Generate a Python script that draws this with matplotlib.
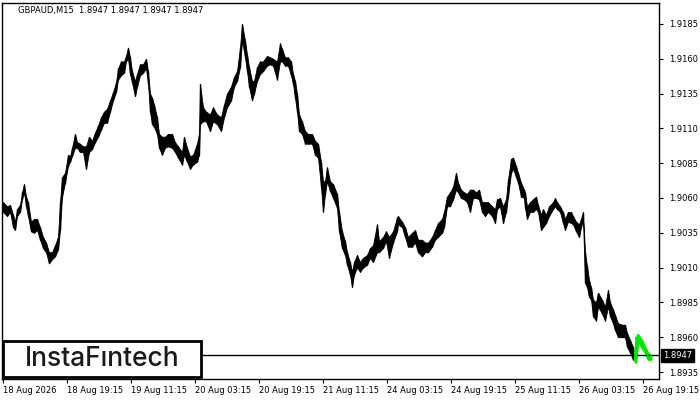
import matplotlib
matplotlib.use("Agg")
import matplotlib.pyplot as plt
from matplotlib.patches import Rectangle
from matplotlib.transforms import blended_transform_factory

symbol = "GBPAUD,M15"
last_price = 1.8947

# M15 bar index (0 = 18 Aug 2026 00:00) with bar high / low
bars = [0, 4, 7, 10, 12, 14, 17, 19, 21, 23, 25, 28, 31, 34, 37, 40, 43, 46, 49, 52,
        55, 57, 59, 62, 65, 67, 69, 72, 74, 77, 80, 83, 86, 89, 92, 95, 98, 101, 104, 107,
        110, 113, 115, 118, 121, 123, 125, 127, 129, 132, 134, 137, 140, 143, 145, 147, 149, 151, 154, 156,
        159, 162, 165, 169, 172, 175, 179, 181, 184, 187, 190, 194, 196, 197, 200, 203, 207, 210, 214, 218,
        221, 224, 228, 231, 234, 237, 239, 242, 244, 246, 249, 251, 254, 257, 260, 264, 267, 270, 274, 277,
        279, 282, 285, 288, 290, 292, 294, 296, 299, 302, 305, 309, 312, 315, 318, 320, 322, 324, 327, 330,
        334, 336, 339, 342, 344, 347, 349, 351, 354, 357, 360, 364, 367, 370, 374, 376, 380, 383, 386, 390,
        394, 395, 399, 402, 405, 409, 412, 415, 419, 422, 425, 429, 432, 435, 439, 441, 444, 447, 450, 453,
        455, 458, 461, 464, 467, 470, 473, 476, 479, 482, 485, 489, 492, 494, 497, 500, 503, 505, 508, 510,
        513, 515, 518, 521, 522, 524, 527, 530, 533, 535, 538, 540, 543, 546, 550, 552, 554, 557, 560, 562,
        565, 568, 570, 573, 576, 578, 580, 582, 584, 586, 588, 590, 593, 595, 599, 602, 605, 607, 610, 612,
        615, 619, 622, 624, 627, 630]
highs = [1.9057, 1.9054, 1.9055, 1.9048, 1.9043, 1.9052, 1.9055, 1.9064, 1.9070, 1.9061, 1.9057, 1.9043, 1.9045, 1.9045, 1.9039, 1.9032, 1.9028, 1.9021, 1.9021, 1.9026,
         1.9032, 1.9057, 1.9075, 1.9078, 1.9091, 1.9090, 1.9096, 1.9106, 1.9100, 1.9099, 1.9097, 1.9097, 1.9104, 1.9101, 1.9107, 1.9112, 1.9118, 1.9122, 1.9124, 1.9130,
         1.9136, 1.9143, 1.9153, 1.9158, 1.9158, 1.9162, 1.9168, 1.9161, 1.9151, 1.9144, 1.9149, 1.9156, 1.9156, 1.9160, 1.9151, 1.9135, 1.9132, 1.9127, 1.9118, 1.9106,
         1.9104, 1.9104, 1.9106, 1.9106, 1.9100, 1.9097, 1.9093, 1.9104, 1.9096, 1.9090, 1.9091, 1.9099, 1.9106, 1.9142, 1.9125, 1.9122, 1.9120, 1.9125, 1.9120, 1.9118,
         1.9127, 1.9135, 1.9140, 1.9147, 1.9151, 1.9168, 1.9185, 1.9173, 1.9163, 1.9154, 1.9144, 1.9144, 1.9154, 1.9158, 1.9158, 1.9162, 1.9161, 1.9160, 1.9158, 1.9171,
         1.9167, 1.9161, 1.9161, 1.9158, 1.9149, 1.9144, 1.9135, 1.9120, 1.9115, 1.9108, 1.9106, 1.9106, 1.9101, 1.9099, 1.9086, 1.9072, 1.9072, 1.9082, 1.9072, 1.9070,
         1.9063, 1.9050, 1.9036, 1.9029, 1.9021, 1.9014, 1.9007, 1.9014, 1.9019, 1.9014, 1.9017, 1.9019, 1.9024, 1.9026, 1.9041, 1.9029, 1.9032, 1.9036, 1.9032, 1.9036,
         1.9046, 1.9047, 1.9043, 1.9039, 1.9032, 1.9035, 1.9037, 1.9030, 1.9030, 1.9028, 1.9028, 1.9032, 1.9037, 1.9042, 1.9045, 1.9050, 1.9061, 1.9064, 1.9068, 1.9078,
         1.9071, 1.9066, 1.9064, 1.9063, 1.9066, 1.9066, 1.9064, 1.9066, 1.9057, 1.9057, 1.9057, 1.9054, 1.9052, 1.9059, 1.9060, 1.9054, 1.9059, 1.9073, 1.9088, 1.9089,
         1.9083, 1.9078, 1.9071, 1.9066, 1.9064, 1.9054, 1.9057, 1.9059, 1.9061, 1.9055, 1.9048, 1.9052, 1.9048, 1.9054, 1.9057, 1.9060, 1.9057, 1.9054, 1.9050, 1.9045,
         1.9050, 1.9050, 1.9047, 1.9043, 1.9041, 1.9045, 1.9050, 1.9021, 1.9011, 1.9001, 1.8996, 1.8987, 1.8985, 1.8992, 1.8987, 1.8982, 1.8994, 1.8985, 1.8980, 1.8976,
         1.8970, 1.8969, 1.8969, 1.8963, 1.8958, 1.8953]
lows = [1.9050, 1.9047, 1.9050, 1.9039, 1.9037, 1.9047, 1.9050, 1.9059, 1.9064, 1.9054, 1.9047, 1.9036, 1.9035, 1.9037, 1.9030, 1.9024, 1.9021, 1.9013, 1.9016, 1.9018,
        1.9023, 1.9037, 1.9061, 1.9071, 1.9083, 1.9086, 1.9090, 1.9096, 1.9096, 1.9093, 1.9093, 1.9081, 1.9093, 1.9095, 1.9100, 1.9104, 1.9109, 1.9114, 1.9114, 1.9122,
        1.9130, 1.9136, 1.9145, 1.9148, 1.9150, 1.9158, 1.9160, 1.9149, 1.9143, 1.9133, 1.9140, 1.9148, 1.9150, 1.9153, 1.9142, 1.9122, 1.9113, 1.9111, 1.9106, 1.9096,
        1.9091, 1.9096, 1.9097, 1.9096, 1.9093, 1.9089, 1.9084, 1.9091, 1.9086, 1.9081, 1.9084, 1.9086, 1.9091, 1.9113, 1.9115, 1.9115, 1.9108, 1.9115, 1.9113, 1.9108,
        1.9118, 1.9125, 1.9130, 1.9140, 1.9144, 1.9154, 1.9173, 1.9161, 1.9151, 1.9140, 1.9130, 1.9135, 1.9144, 1.9149, 1.9151, 1.9155, 1.9156, 1.9155, 1.9145, 1.9158,
        1.9158, 1.9155, 1.9155, 1.9148, 1.9142, 1.9132, 1.9122, 1.9108, 1.9106, 1.9099, 1.9099, 1.9099, 1.9091, 1.9089, 1.9068, 1.9050, 1.9063, 1.9072, 1.9065, 1.9060,
        1.9053, 1.9036, 1.9024, 1.9019, 1.9012, 1.9005, 1.8996, 1.9005, 1.9010, 1.9007, 1.9010, 1.9012, 1.9017, 1.9014, 1.9021, 1.9021, 1.9024, 1.9029, 1.9017, 1.9028,
        1.9036, 1.9041, 1.9039, 1.9032, 1.9025, 1.9025, 1.9028, 1.9021, 1.9018, 1.9021, 1.9021, 1.9025, 1.9030, 1.9032, 1.9035, 1.9039, 1.9054, 1.9054, 1.9059, 1.9066,
        1.9064, 1.9060, 1.9059, 1.9057, 1.9050, 1.9060, 1.9060, 1.9059, 1.9050, 1.9047, 1.9050, 1.9047, 1.9042, 1.9052, 1.9054, 1.9042, 1.9050, 1.9061, 1.9078, 1.9081,
        1.9075, 1.9071, 1.9061, 1.9060, 1.9053, 1.9045, 1.9050, 1.9050, 1.9052, 1.9050, 1.9037, 1.9039, 1.9042, 1.9047, 1.9052, 1.9054, 1.9052, 1.9050, 1.9042, 1.9037,
        1.9043, 1.9042, 1.9041, 1.9036, 1.9032, 1.9039, 1.9045, 1.8999, 1.8996, 1.8989, 1.8987, 1.8975, 1.8972, 1.8982, 1.8977, 1.8972, 1.8982, 1.8975, 1.8970, 1.8965,
        1.8960, 1.8960, 1.8960, 1.8953, 1.8949, 1.8944]

# last bars, drawn in lime
green_bars = [632, 633, 635, 639, 642, 645, 648]
green_highs = [1.8952, 1.8960, 1.8962, 1.8958, 1.8953, 1.8949, 1.8947]
green_lows = [1.8942, 1.8942, 1.8957, 1.8952, 1.8949, 1.8944, 1.8944]

x_tick_pos = [0, 64, 128, 192, 256, 320, 384, 448, 512, 576, 640]
x_tick_labels = ["18 Aug 2026", "18 Aug 19:15", "19 Aug 11:15", "20 Aug 03:15", "20 Aug 19:15",
                 "21 Aug 11:15", "24 Aug 03:15", "24 Aug 19:15", "25 Aug 11:15", "26 Aug 03:15",
                 "26 Aug 19:15"]
y_ticks = [1.8935, 1.8960, 1.8985, 1.9010, 1.9035, 1.9060, 1.9085, 1.9110, 1.9135, 1.9160, 1.9185]

plt.rcParams["font.family"] = ["DejaVu Sans"]
W, H = 700, 400
fig = plt.figure(figsize=(7, 4), dpi=100)
ax = fig.add_axes([2 / W, 21 / H, 657 / W, 376 / H])

ax.fill_between(bars, lows, highs, color="black", linewidth=0.6)
ax.vlines(bars, lows, highs, color="black", linewidth=1.0)
ax.fill_between(green_bars, green_lows, green_highs, color="#00e600", linewidth=1.2)
ax.vlines(green_bars, green_lows, green_highs, color="#00e600", linewidth=1.2)

ax.axhline(last_price, color="black", linewidth=1.0, zorder=1)

ax.set_xlim(-1, 656)
ax.set_ylim(1.8930, 1.9200)

ax.set_xticks(x_tick_pos)
ax.set_xticklabels(x_tick_labels, ha="left")
ax.set_yticks(y_ticks)
ax.set_yticklabels([f"{v:.4f}" for v in y_ticks])
ax.yaxis.tick_right()
ax.tick_params(axis="both", direction="out", length=3, width=0.8, labelsize=6, colors="black")
ax.tick_params(axis="x", pad=2)
ax.tick_params(axis="y", pad=4)
for s in ax.spines.values():
    s.set_linewidth(1.0)
    s.set_color("black")

trans = blended_transform_factory(ax.transAxes, ax.transData)
ax.text(1.006, last_price, f"{last_price:.4f}", transform=trans, ha="left", va="center",
        color="white", fontsize=6,
        bbox=dict(boxstyle="square,pad=0.25", fc="black", ec="black"))

fig.text(18 / W, 1 - 11 / H,
         f"{symbol}  {last_price:.4f} {last_price:.4f} {last_price:.4f} {last_price:.4f}",
         fontsize=6, va="center", ha="left", color="black")

# watermark
fig.add_artist(Rectangle((3 / W, 1 - 377 / H), 198 / W, 36 / H, transform=fig.transFigure,
                         fc="white", ec="black", lw=2, zorder=10))
fig.text(102 / W, 1 - 359 / H, "InstaF\u0131ntech", fontsize=19, family="Inter",
         fontweight="medium", color="#1a1a1a", ha="center", va="center", zorder=11)

fig.savefig("out.png", dpi=100)
